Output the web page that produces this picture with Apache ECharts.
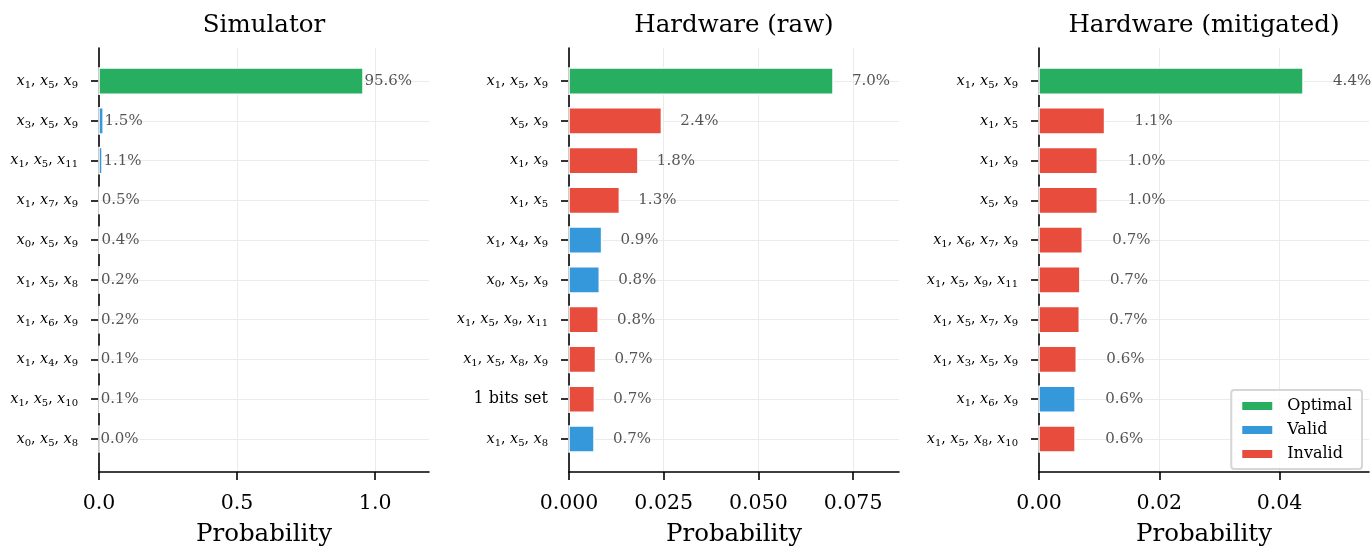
<!DOCTYPE html>
<html>
<head>
<meta charset="utf-8">
<script src="https://cdn.jsdelivr.net/npm/echarts@6/dist/echarts.min.js"></script>
<style>
  html, body { margin: 0; padding: 0; background: #fff; }
  #chart { width: 1372px; height: 552px; }
</style>
</head>
<body>
<div id="chart"></div>
<script>
// ---- data -------------------------------------------------------------
const PANEL_TITLES = ['Simulator', 'Hardware (raw)', 'Hardware (mitigated)'];
const STATUS_NAMES = ['Optimal', 'Valid', 'Invalid'];
const STATUS_COLORS = ['#27ae60', '#3498db', '#e74c3c'];

// "x_k" parts are drawn as an italic x with subscript k
const simCategories = ['x_1, x_5, x_9', 'x_3, x_5, x_9', 'x_1, x_5, x_11', 'x_1, x_7, x_9', 'x_0, x_5, x_9',
  'x_1, x_5, x_8', 'x_1, x_6, x_9', 'x_1, x_4, x_9', 'x_1, x_5, x_10', 'x_0, x_5, x_8'];
const simValues = [0.956, 0.015, 0.011, 0.005, 0.004, 0.002, 0.002, 0.001, 0.001, 0.0003];
const simStatus = ['Optimal', 'Valid', 'Valid', 'Valid', 'Valid', 'Valid', 'Valid', 'Valid', 'Valid', 'Valid'];

const rawCategories = ['x_1, x_5, x_9', 'x_5, x_9', 'x_1, x_9', 'x_1, x_5', 'x_1, x_4, x_9', 'x_0, x_5, x_9',
  'x_1, x_5, x_9, x_11', 'x_1, x_5, x_8, x_9', '1 bits set', 'x_1, x_5, x_8'];
const rawValues = [0.0697, 0.0244, 0.0182, 0.0133, 0.0086, 0.0080, 0.0077, 0.0070, 0.0067, 0.0066];
const rawStatus = ['Optimal', 'Invalid', 'Invalid', 'Invalid', 'Valid', 'Valid', 'Invalid', 'Invalid', 'Invalid', 'Valid'];

const mitCategories = ['x_1, x_5, x_9', 'x_1, x_5', 'x_1, x_9', 'x_5, x_9', 'x_1, x_6, x_7, x_9',
  'x_1, x_5, x_9, x_11', 'x_1, x_5, x_7, x_9', 'x_1, x_3, x_5, x_9', 'x_1, x_6, x_9', 'x_1, x_5, x_8, x_10'];
const mitValues = [0.0439, 0.0109, 0.0097, 0.0097, 0.0072, 0.0068, 0.0067, 0.0062, 0.0060, 0.0060];
const mitStatus = ['Optimal', 'Invalid', 'Invalid', 'Invalid', 'Invalid', 'Invalid', 'Invalid', 'Invalid', 'Valid', 'Invalid'];

const simTicks = [0, 0.5, 1.0];
const rawTicks = [0, 0.025, 0.05, 0.075];
const mitTicks = [0, 0.02, 0.04];
const tickDecimals = [1, 3, 2];

// ---- layout & style ---------------------------------------------------
const FONT = 'DejaVu Serif';
const GRID_LEFT = [99, 569, 1039];
const GRID_WIDTH = 330;
const GRID_TOP = 48;
const GRID_HEIGHT = 429;
const BAR_HEIGHT = 0.66;        // in category units
const LABEL_PAD = 0.005;        // value labels sit this far (in probability) past the bar end
const X_HEADROOM = 1.25;        // axis extends to 125% of the largest bar

const panels = [
  { cats: simCategories, vals: simValues, status: simStatus, ticks: simTicks },
  { cats: rawCategories, vals: rawValues, status: rawStatus, ticks: rawTicks },
  { cats: mitCategories, vals: mitValues, status: mitStatus, ticks: mitTicks }
];

function categoryLabel(text) {
  return text.split(', ').map(function (part) {
    const m = /^x_(\d+)$/.exec(part);
    return m ? '{v|x}{s|' + m[1] + '}' : '{t|' + part + '}';
  }).join('{c|, }');
}

const richStyles = {
  v: { fontFamily: FONT, fontStyle: 'italic', fontSize: 14.5, lineHeight: 18, color: '#000' },
  s: { fontFamily: FONT, fontSize: 10, lineHeight: 10, verticalAlign: 'bottom', color: '#000' },
  c: { fontFamily: FONT, fontSize: 14, lineHeight: 18, color: '#000' },
  t: { fontFamily: FONT, fontSize: 16, lineHeight: 18, color: '#000' }
};

const chart = echarts.init(document.getElementById('chart'), null, { renderer: 'canvas' });

const grids = [], xAxes = [], yAxes = [], series = [], titles = [];
const catIdx = [0, 1, 2, 3, 4, 5, 6, 7, 8, 9];

panels.forEach(function (p, k) {
  const xMax = Math.max.apply(null, p.vals) * X_HEADROOM;
  grids.push({ left: GRID_LEFT[k], top: GRID_TOP, width: GRID_WIDTH, height: GRID_HEIGHT, containLabel: false });
  titles.push({
    text: PANEL_TITLES[k], left: GRID_LEFT[k] + GRID_WIDTH / 2, top: 13, textAlign: 'center', padding: 0,
    textStyle: { fontFamily: FONT, fontSize: 24.5, fontWeight: 'normal', color: '#000' }
  });
  xAxes.push({
    gridIndex: k, type: 'value', min: 0, max: xMax,
    name: 'Probability', nameLocation: 'middle', nameGap: 50,
    nameTextStyle: { fontFamily: FONT, fontSize: 24.5, color: '#000' },
    axisLine: { show: true, onZero: false, lineStyle: { color: '#000', width: 1.6 } },
    axisTick: { show: true, length: 8, customValues: p.ticks, lineStyle: { color: '#000', width: 1.6 } },
    axisLabel: {
      customValues: p.ticks, margin: 21, fontFamily: FONT, fontSize: 20.5, color: '#000',
      formatter: function (v) { return v.toFixed(tickDecimals[k]); }
    },
    splitLine: { show: true, lineStyle: { color: '#ebebeb', width: 1 } }
  });
  yAxes.push({
    gridIndex: k, type: 'value', inverse: true, min: -0.835, max: 9.83,
    axisLine: { show: true, onZero: false, lineStyle: { color: '#000', width: 1.6 } },
    axisTick: { show: true, length: 8, customValues: catIdx, lineStyle: { color: '#000', width: 1.6 } },
    axisLabel: {
      customValues: catIdx, margin: 21, rich: richStyles,
      formatter: function (v) { return categoryLabel(p.cats[Math.round(v)]); }
    },
    splitLine: { show: true, lineStyle: { color: '#ebebeb', width: 1 } }
  });
  STATUS_NAMES.forEach(function (name, s) {
    const data = [];
    p.vals.forEach(function (v, i) { if (p.status[i] === name) data.push([v, i]); });
    series.push({
      type: 'custom', name: name, xAxisIndex: k, yAxisIndex: k,
      itemStyle: { color: STATUS_COLORS[s] },
      encode: { x: 0, y: 1 },
      data: data,
      renderItem: function (params, api) {
        const v = api.value(0), i = api.value(1);
        const p0 = api.coord([0, i]);
        const p1 = api.coord([v, i]);
        const pl = api.coord([v + LABEL_PAD, i]);
        const h = api.size([0, BAR_HEIGHT])[1];
        return {
          type: 'group',
          children: [
            {
              type: 'rect',
              shape: { x: p0[0], y: p0[1] - h / 2, width: p1[0] - p0[0], height: h },
              style: { fill: STATUS_COLORS[s], stroke: '#ffffff', lineWidth: 1.5 }
            },
            {
              type: 'text',
              x: pl[0], y: pl[1],
              style: {
                text: (v * 100).toFixed(1) + '%', fill: '#555555',
                fontFamily: FONT, fontSize: 15, align: 'left', verticalAlign: 'middle'
              }
            }
          ]
        };
      }
    });
  });
});

chart.setOption({
  animation: false,
  backgroundColor: '#ffffff',
  title: titles,
  grid: grids,
  xAxis: xAxes,
  yAxis: yAxes,
  legend: {
    data: STATUS_NAMES, orient: 'vertical', right: 10, bottom: 83,
    icon: 'rect', itemWidth: 30, itemHeight: 8, itemGap: 8,
    padding: [8, 10, 7, 11], borderColor: '#d6d6d6', borderWidth: 2, borderRadius: 3,
    backgroundColor: 'rgba(255,255,255,0.85)', selectedMode: false,
    textStyle: { fontFamily: FONT, fontSize: 16, color: '#000', padding: [0, 0, 0, 10] }
  },
  series: series
});
</script>
</body>
</html>
